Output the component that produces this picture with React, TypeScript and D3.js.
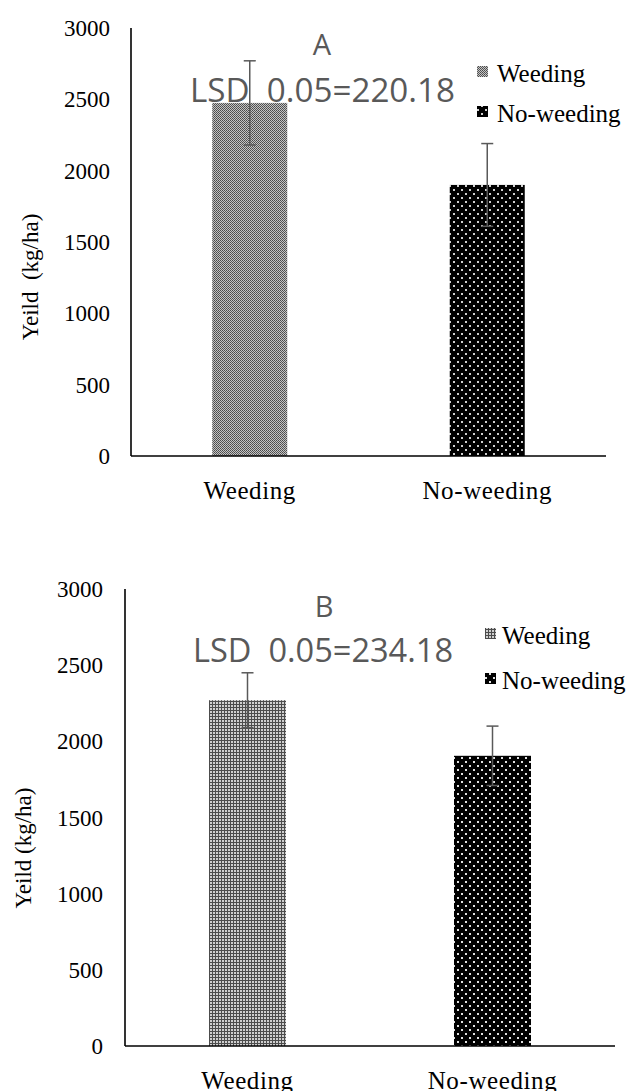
import React from "react";
import * as d3 from "d3";

const categories = ["Weeding", "No-weeding"];
const yieldA = [2475, 1900];
const errorA = [295, 290];
const yieldB = [2270, 1905];
const errorB = [180, 195];
const yTicks = [0, 500, 1000, 1500, 2000, 2500, 3000];
const panelLetters = ["A", "B"];
const lsdLabels = ["LSD  0.05=220.18", "LSD  0.05=234.18"];
const yTitles = ["Yeild  (kg/ha)", "Yeild (kg/ha)"];

type PanelCfg = {
  id: string;
  values: number[];
  errors: number[];
  letter: string;
  lsd: string;
  yTitle: string;
  x0: number;
  x1: number;
  yTop: number;
  yBottom: number;
  barW: number;
  tickRight: number;
  letterX: number;
  letterY: number;
  lsdX: number;
  lsdY: number;
  lsdW: number;
  legendX: number;
  legendTextX: number;
  legendY: number[];
  titleX: number;
  titleY: number;
  catY: number;
  patterns: string[];
};

const serif = { fontFamily: '"Liberation Serif", "Times New Roman", Times, serif' };
const sans = { fontFamily: '"Open Sans", "Noto Sans", sans-serif' };

function Panel({ c }: { c: PanelCfg }) {
  const y = d3.scaleLinear().domain([0, 3000]).range([c.yBottom, c.yTop]);
  const x = d3.scaleBand<string>().domain(categories).range([c.x0, c.x1]);
  const bw = x.bandwidth();
  return (
    <g>
      {categories.map((cat, i) => {
        const cx = (x(cat) as number) + bw / 2;
        return (
          <rect
            key={cat}
            x={cx - c.barW / 2}
            y={y(c.values[i])}
            width={c.barW}
            height={c.yBottom - y(c.values[i])}
            fill={`url(#${c.patterns[i]})`}
          />
        );
      })}
      {categories.map((cat, i) => {
        const cx = (x(cat) as number) + bw / 2;
        const hi = y(c.values[i] + c.errors[i]);
        const lo = y(c.values[i] - c.errors[i]);
        return (
          <g key={"e" + cat} stroke="#595959" strokeWidth={1.5}>
            <line x1={cx} x2={cx} y1={hi} y2={lo} />
            <line x1={cx - 6} x2={cx + 6} y1={hi} y2={hi} />
            <line x1={cx - 6} x2={cx + 6} y1={lo} y2={lo} />
          </g>
        );
      })}
      <line x1={c.x0} x2={c.x0} y1={c.yTop} y2={c.yBottom} stroke="#000" strokeWidth={1.6} />
      <line x1={c.x0} x2={c.x1} y1={c.yBottom} y2={c.yBottom} stroke="#000" strokeWidth={1.6} />
      {yTicks.map((t) => (
        <text
          key={t}
          x={c.tickRight}
          y={y(t)}
          dy="0.35em"
          textAnchor="end"
          style={serif}
          fontSize={23}
          fill="#000"
        >
          {t}
        </text>
      ))}
      {categories.map((cat) => (
        <text
          key={"l" + cat}
          x={(x(cat) as number) + bw / 2}
          y={c.catY}
          textAnchor="middle"
          style={serif}
          fontSize={25}
          letterSpacing={0.6}
          fill="#000"
        >
          {cat}
        </text>
      ))}
      <text
        transform={`translate(${c.titleX},${c.titleY}) rotate(-90)`}
        textAnchor="middle"
        style={{ ...serif, whiteSpace: "pre" }}
        fontSize={23}
        fill="#000"
      >
        {c.yTitle}
      </text>
      <text x={c.letterX} y={c.letterY} textAnchor="middle" style={sans} fontSize={29} fill="#595959">
        {c.letter}
      </text>
      <text
        x={c.lsdX}
        y={c.lsdY}
        style={{ ...sans, whiteSpace: "pre" }}
        fontSize={32}
        fill="#595959"
        textLength={c.lsdW}
        lengthAdjust="spacingAndGlyphs"
      >
        {c.lsd}
      </text>
      {categories.map((cat, i) => (
        <g key={"lg" + cat}>
          <rect x={c.legendX} y={c.legendY[i] - 16} width={11} height={11} fill={`url(#${c.patterns[i]})`} />
          <text x={c.legendTextX} y={c.legendY[i]} style={serif} fontSize={25} fill="#000">
            {cat}
          </text>
        </g>
      ))}
    </g>
  );
}

const panels: PanelCfg[] = [
  {
    id: "A",
    values: yieldA,
    errors: errorA,
    letter: panelLetters[0],
    lsd: lsdLabels[0],
    yTitle: yTitles[0],
    x0: 131,
    x1: 606,
    yTop: 28,
    yBottom: 456,
    barW: 75,
    tickRight: 110,
    letterX: 322,
    letterY: 55,
    lsdX: 190,
    lsdY: 102,
    lsdW: 265,
    legendX: 477,
    legendTextX: 497,
    legendY: [82, 122],
    titleX: 38,
    titleY: 277,
    catY: 499,
    patterns: ["pA1", "pA2"],
  },
  {
    id: "B",
    values: yieldB,
    errors: errorB,
    letter: panelLetters[1],
    lsd: lsdLabels[1],
    yTitle: yTitles[1],
    x0: 125,
    x1: 615,
    yTop: 589,
    yBottom: 1046,
    barW: 77,
    tickRight: 103,
    letterX: 324,
    letterY: 617,
    lsdX: 193,
    lsdY: 662,
    lsdW: 260,
    legendX: 485,
    legendTextX: 502,
    legendY: [644, 689],
    titleX: 31,
    titleY: 848,
    catY: 1089,
    patterns: ["pB1", "pB2"],
  },
];

export default function App() {
  return (
    <svg
      width={635}
      height={1091}
      viewBox="0 0 635 1091"
      style={{ position: "absolute", left: 0, top: 0, background: "#fff" }}
    >
      <defs>
        <pattern id="pA1" width={2} height={2} patternUnits="userSpaceOnUse">
          <rect width={2} height={2} fill="#c4c4c4" />
          <rect x={0} y={0} width={1} height={1} fill="#4a4a4a" />
          <rect x={1} y={1} width={1} height={1} fill="#5a5a5a" />
        </pattern>
        <pattern id="pA2" width={8} height={8} patternUnits="userSpaceOnUse">
          <rect width={8} height={8} fill="#000" />
          <rect x={1} y={1} width={2} height={2} fill="#d0d0d0" />
          <rect x={5} y={5} width={2} height={2} fill="#d0d0d0" />
        </pattern>
        <pattern id="pB1" width={3} height={3} patternUnits="userSpaceOnUse">
          <rect width={3} height={3} fill="#4c4c4c" />
          <rect x={0} y={0} width={2} height={2} fill="#cfcfcf" />
        </pattern>
        <pattern id="pB2" width={8} height={8} patternUnits="userSpaceOnUse">
          <rect width={8} height={8} fill="#000" />
          <rect x={1} y={1} width={2} height={2} fill="#e0e0e0" />
          <rect x={5} y={5} width={2} height={2} fill="#e0e0e0" />
        </pattern>
      </defs>
      {panels.map((p) => (
        <Panel key={p.id} c={p} />
      ))}
    </svg>
  );
}
